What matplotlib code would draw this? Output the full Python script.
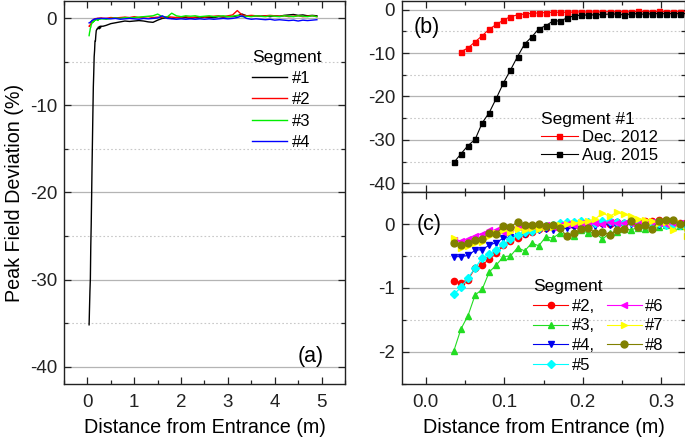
import numpy as np
import matplotlib
matplotlib.use("Agg")
import matplotlib.pyplot as plt
from matplotlib.ticker import MultipleLocator

plt.rcParams['font.family'] = ['Liberation Sans', 'DejaVu Sans']
plt.rcParams['axes.unicode_minus'] = False

# ---------------- data ----------------
# near-entrance positions (m)
x_near = [0.036, 0.045, 0.054, 0.063, 0.072, 0.081, 0.090, 0.099, 0.108, 0.117,
          0.126, 0.135, 0.144, 0.153, 0.162, 0.171, 0.180, 0.189, 0.198, 0.207,
          0.216, 0.225, 0.234, 0.243, 0.252, 0.261, 0.270, 0.279, 0.288, 0.297,
          0.306, 0.315, 0.324, 0.333]

# panel (b): segment #1
x_dec2012 = x_near[1:]
dec2012 = [-9.7, -8.8, -7.4, -6.0, -4.5, -3.4, -2.4, -1.6, -1.2, -1.0, -0.85, -0.75,
           -0.65, -0.6, -0.6, -0.6, -0.55, -0.5, -0.55, -0.5, -0.5, -0.45, -0.5, -0.45,
           -0.5, -0.4, -0.45, -0.5, -0.4, -0.45, -0.5, -0.45, -0.5]
aug2015 = [-35.2, -33.2, -31.3, -29.9, -26.1, -23.7, -20.4, -16.9, -13.9, -10.8,
           -7.9, -6.3, -4.4, -3.7, -2.6, -2.6, -1.9, -1.4, -1.3, -1.2, -1.2, -1.1,
           -1.0, -1.0, -1.2, -1.0, -0.9, -1.1, -0.9, -0.9, -0.9, -0.9, -0.9, -0.9]

# panel (c): segments #2 - #8
seg2 = [-0.89, -0.92, -0.87, -0.69, -0.64, -0.55, -0.46, -0.33, -0.27, -0.22, -0.16,
        -0.12, -0.08, -0.06, -0.05, -0.03, -0.02, -0.01, -0.02, 0.00, 0.01, 0.02, 0.00,
        0.03, 0.02, 0.04, 0.03, 0.05, 0.04, 0.06, 0.05, 0.04, 0.02, 0.03]
seg3 = [-1.98, -1.64, -1.43, -1.11, -1.02, -0.75, -0.64, -0.51, -0.50, -0.37, -0.42,
        -0.30, -0.34, -0.20, -0.22, -0.14, -0.17, -0.18, -0.10, -0.14, -0.13, -0.24,
        -0.14, -0.12, -0.08, -0.09, -0.06, -0.08, -0.04, -0.05, -0.02, -0.04, -0.03, -0.05]
seg4 = [-0.51, -0.51, -0.49, -0.41, -0.40, -0.33, -0.29, -0.22, -0.21, -0.18, -0.15,
        -0.12, -0.10, -0.08, -0.09, -0.06, -0.07, -0.05, -0.04, -0.02, -0.03, 0.00,
        -0.02, -0.03, -0.01, 0.00, -0.02, 0.01, 0.00, -0.01, 0.01, 0.00, -0.02, -0.01]
seg5 = [-1.10, -0.99, -0.84, -0.69, -0.53, -0.47, -0.40, -0.32, -0.24, -0.17, -0.13,
        -0.11, -0.07, -0.03, -0.02, 0.01, 0.03, 0.03, 0.04, 0.03, 0.02, 0.04, 0.05,
        0.03, 0.02, 0.03, 0.01, 0.00, 0.02, 0.01, -0.01, 0.00, -0.02, -0.03]
seg6 = [-0.25, -0.26, -0.24, -0.18, -0.15, -0.10, -0.10, -0.12, -0.06, -0.05, -0.04,
        -0.03, -0.03, -0.02, -0.04, -0.01, 0.00, -0.02, 0.01, -0.01, 0.02, 0.00, 0.03,
        0.02, 0.01, 0.02, 0.00, 0.01, 0.03, 0.02, 0.00, 0.01, 0.02, 0.01]
seg7 = [-0.22, -0.38, -0.35, -0.30, -0.28, -0.18, -0.14, -0.10, -0.12, -0.08, -0.10,
        -0.06, -0.08, -0.04, -0.05, -0.02, 0.00, 0.02, 0.03, 0.05, 0.08, 0.17, 0.12,
        0.18, 0.15, 0.13, 0.08, 0.07, 0.05, 0.02, 0.03, -0.10, 0.02, -0.18]
seg8 = [-0.29, -0.33, -0.29, -0.25, -0.24, -0.14, -0.15, -0.03, -0.04, 0.03, -0.02,
        -0.01, 0.00, -0.03, -0.02, -0.07, -0.19, -0.14, -0.08, -0.06, -0.14, -0.12,
        -0.17, -0.09, -0.08, 0.04, -0.05, -0.02, -0.08, 0.05, 0.06, 0.07, 0.00, 0.02]

# panel (a): along the full length (beyond the near-entrance region)
x_far = [0.4, 0.5, 0.6, 0.7, 0.8, 0.9, 1.0, 1.1, 1.2, 1.3, 1.4, 1.5, 1.6, 1.7, 1.8,
         1.9, 2.0, 2.1, 2.2, 2.3, 2.4, 2.5, 2.6, 2.7, 2.8, 2.9, 3.0, 3.1, 3.2, 3.3,
         3.4, 3.5, 3.6, 3.7, 3.8, 3.9, 4.0, 4.1, 4.2, 4.3, 4.4, 4.5, 4.6, 4.7, 4.8, 4.9]
far1 = [-0.8, -0.6, -0.5, -0.4, -0.3, -0.35, -0.3, -0.25, -0.3, -0.4, -0.45, -0.2,
        0.0, 0.1, 0.0, 0.1, 0.05, 0.1, 0.0, 0.1, 0.05, 0.15, 0.1, 0.1, 0.2, 0.15, 0.2,
        0.2, 0.3, 0.5, 0.3, 0.25, 0.3, 0.25, 0.3, 0.2, 0.3, 0.25, 0.35, 0.4, 0.45,
        0.35, 0.4, 0.3, 0.35, 0.3]
far2 = [0.0, 0.1, 0.05, 0.1, 0.15, 0.1, 0.2, 0.1, 0.15, 0.2, 0.1, 0.15, 0.1, 0.2,
        0.15, 0.1, 0.15, 0.2, 0.1, 0.15, 0.2, 0.15, 0.2, 0.25, 0.3, 0.2, 0.3, 0.4,
        0.9, 0.4, 0.3, 0.35, 0.3, 0.25, 0.3, 0.35, 0.3, 0.25, 0.3, 0.2, 0.25, 0.3,
        0.2, 0.25, 0.3, 0.2]
far3 = [-0.1, 0.0, 0.05, 0.0, 0.1, 0.05, 0.1, 0.15, 0.2, 0.25, 0.3, 0.5, 0.2, 0.15,
        0.6, 0.3, 0.2, 0.3, 0.25, 0.3, 0.2, 0.25, 0.3, 0.2, 0.25, 0.3, 0.2, 0.25,
        0.35, 0.2, 0.25, 0.2, 0.3, 0.25, 0.2, 0.3, 0.25, 0.2, 0.3, 0.25, 0.2, 0.3,
        0.25, 0.2, 0.3, 0.2]
far4 = [0.0, -0.05, 0.0, -0.1, -0.05, 0.0, -0.05, -0.1, 0.0, -0.05, 0.0, 0.05, 0.3,
        0.0, -0.05, -0.1, -0.05, -0.1, -0.05, -0.1, -0.05, -0.1, -0.05, -0.1, -0.05,
        0.0, -0.05, 0.0, 0.1, 0.3, 0.0, -0.1, -0.05, -0.1, -0.15, -0.1, -0.2, -0.15,
        -0.2, -0.25, -0.2, -0.3, -0.2, -0.25, -0.2, -0.15]

# ---------------- styling ----------------
fig = plt.figure(figsize=(6.85, 4.4), dpi=100)
W, H = 685.0, 440.0
axa = fig.add_axes([64 / W, 1 - 384 / H, (345 - 64) / W, (384 - 1) / H])
axb = fig.add_axes([402 / W, 1 - 192 / H, (685 - 402) / W, (192 - 1) / H])
axc = fig.add_axes([402 / W, 1 - 384 / H, (685 - 402) / W, 192 / H])

TICK_FS = 13.5
LAB_FS = 14.2

def style(ax):
    ax.tick_params(which='both', direction='in', top=True, right=True,
                   labelsize=TICK_FS, width=0.9, colors='#222222')
    ax.tick_params(which='major', length=5)
    ax.tick_params(which='minor', length=3)
    ax.tick_params(axis='x', which='major', pad=7)
    ax.tick_params(axis='y', which='major', pad=5)
    ax.grid(True, which='major', axis='y', color='#b4b4b4', lw=0.9, ls='-')
    ax.grid(True, which='minor', axis='y', color='#c8c8c8', lw=0.8, ls=(0, (1.5, 2)))
    ax.set_axisbelow(True)
    for s in ax.spines.values():
        s.set_linewidth(1.0)
        s.set_color('#222222')

LEG_FS = 12
TITLE_FS = 12.5

# ----- panel (a)
lines_a = [
    (x_near + x_far, aug2015 + far1, 'black', '#1'),
    (x_near + x_far, seg2 + far2, '#ff0000', '#2'),
    (x_near + x_far, seg3 + far3, '#00ee00', '#3'),
    (x_near + x_far, seg4 + far4, '#0000ff', '#4'),
]
for xs, ys, c, lab in lines_a:
    axa.plot(xs, ys, color=c, lw=1.0, label=lab)
axa.set_xlim(-0.5, 5.5)
axa.set_ylim(-42, 2)
axa.xaxis.set_major_locator(MultipleLocator(1))
axa.xaxis.set_minor_locator(MultipleLocator(0.5))
axa.yaxis.set_major_locator(MultipleLocator(10))
axa.yaxis.set_minor_locator(MultipleLocator(5))
style(axa)
axa.set_xlabel('Distance from Entrance (m)', fontsize=LAB_FS, labelpad=5)
axa.set_ylabel('Peak Field Deviation (%)', fontsize=LAB_FS, labelpad=4)
axa.text(0.879, 0.073, '(a)', transform=axa.transAxes, fontsize=15.5,
         ha='center', va='center')
axa.legend(title='Segment', loc='upper left', bbox_to_anchor=(0.641, 0.895),
           frameon=False, fontsize=LEG_FS, title_fontsize=TITLE_FS,
           handlelength=2.1, handletextpad=0.25, labelspacing=0.38,
           borderpad=0.0, alignment='left')

# ----- panel (b)
axb.plot(x_dec2012, dec2012, color='#ff0000', lw=0.8, marker='s', ms=3.6,
         mec='#ff0000', mfc='#ff0000', label='Dec. 2012')
axb.plot(x_near, aug2015, color='black', lw=0.8, marker='s', ms=3.6,
         label='Aug. 2015')
axb.set_xlim(-0.03, 0.33)
axb.set_ylim(-42, 2)
axb.xaxis.set_major_locator(MultipleLocator(0.1))
axb.xaxis.set_minor_locator(MultipleLocator(0.05))
axb.yaxis.set_major_locator(MultipleLocator(10))
axb.yaxis.set_minor_locator(MultipleLocator(5))
style(axb)
axb.tick_params(labelbottom=False)
axb.text(0.088, 0.86, '(b)', transform=axb.transAxes, fontsize=15.5,
         ha='center', va='center')
axb.legend(title='Segment #1', loc='upper left', bbox_to_anchor=(0.462, 0.465),
           frameon=False, fontsize=LEG_FS, title_fontsize=TITLE_FS,
           handlelength=2.2, handletextpad=0.25, labelspacing=0.2,
           borderpad=0.0, alignment='left')

# ----- panel (c)
series_c = [
    (seg2, '#ff0000', 'o', 4.5, '#2,'),
    (seg3, '#22dd22', '^', 4.8, '#3,'),
    (seg4, '#0000ee', 'v', 4.8, '#4,'),
    (seg5, '#00ffff', 'D', 4.0, '#5'),
    (seg6, '#ff00ff', '<', 4.8, '#6'),
    (seg7, '#ffff00', '>', 4.8, '#7'),
    (seg8, '#808000', 'o', 5.0, '#8'),
]
for ys, c, m, ms, lab in series_c:
    axc.plot(x_near, ys, color=c, lw=0.8, marker=m, ms=ms, mec=c, mfc=c,
             label=lab)
axc.set_xlim(-0.03, 0.33)
axc.set_ylim(-2.5, 0.5)
axc.xaxis.set_major_locator(MultipleLocator(0.1))
axc.xaxis.set_minor_locator(MultipleLocator(0.05))
axc.yaxis.set_major_locator(MultipleLocator(1))
axc.yaxis.set_minor_locator(MultipleLocator(0.5))
style(axc)
axc.set_xlabel('Distance from Entrance (m)', fontsize=LAB_FS, labelpad=5)
axc.text(0.095, 0.833, '(c)', transform=axc.transAxes, fontsize=15.5,
         ha='center', va='center')
axc.legend(title='Segment', loc='upper left', bbox_to_anchor=(0.434, 0.59),
           ncol=2, frameon=False, fontsize=LEG_FS, title_fontsize=TITLE_FS,
           handlelength=2.1, handletextpad=0.2, labelspacing=0.28,
           columnspacing=0.72, borderpad=0.0, alignment='left')

fig.savefig('out.png', dpi=100)
